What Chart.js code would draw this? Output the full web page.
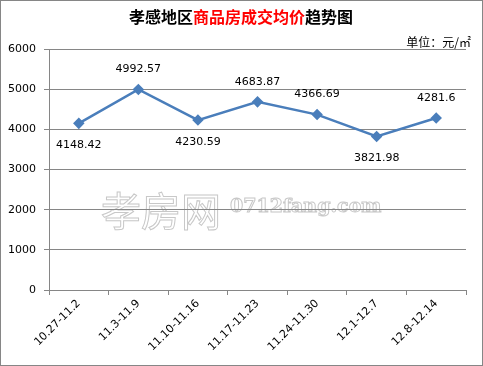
<!DOCTYPE html>
<html>
<head>
<meta charset="utf-8">
<script src="https://cdn.jsdelivr.net/npm/chart.js@4"></script>
<style>
  html, body { margin: 0; padding: 0; background: #fff; }
  .box { width: 483px; height: 366px; position: relative; }
</style>
</head>
<body>
<div class="box"><canvas id="myChart" width="483" height="366"></canvas></div>
<script>
const weeks = ['10.27-11.2', '11.3-11.9', '11.10-11.16', '11.17-11.23', '11.24-11.30', '12.1-12.7', '12.8-12.14'];
const avgPrice = [4148.42, 4992.57, 4230.59, 4683.87, 4366.69, 3821.98, 4281.6];
const labelAbove = [false, true, false, true, true, false, true];
const yTicks = [0, 1000, 2000, 3000, 4000, 5000, 6000];

const gray = '#868686';

// title with red middle part, unit, watermark, frame
const decor = {
  id: 'decor',
  beforeDraw(chart) {
    const ctx = chart.ctx;
    ctx.save();
    ctx.fillStyle = '#fff';
    ctx.fillRect(0, 0, chart.width, chart.height);
    // watermark
    ctx.font = '40px "Noto Sans CJK SC"';
    ctx.strokeStyle = '#c8c8c8';
    ctx.lineWidth = 1;
    ctx.textBaseline = 'middle';
    ctx.strokeText('孝房网', 101, 211);
    ctx.font = 'bold 19px "DejaVu Serif"';
    ctx.strokeText('0712fang.com', 230, 207);
    ctx.restore();
  },
  afterDraw(chart) {
    const ctx = chart.ctx;
    ctx.save();
    ctx.strokeStyle = gray;
    ctx.lineWidth = 1;
    ctx.strokeRect(0.5, 0.5, chart.width - 1, chart.height - 1);
    const parts = [['孝感地区', '#000'], ['商品房成交均价', '#f00'], ['趋势图', '#000']];
    ctx.font = 'bold 16px "Noto Sans CJK SC"';
    ctx.textBaseline = 'middle';
    let total = 0;
    parts.forEach(p => total += ctx.measureText(p[0]).width);
    let x = 241 - total / 2;
    parts.forEach(p => {
      ctx.fillStyle = p[1];
      ctx.textAlign = 'left';
      ctx.fillText(p[0], x, 17);
      x += ctx.measureText(p[0]).width;
    });
    ctx.font = '12px "Noto Sans CJK SC"';
    ctx.fillStyle = '#000';
    ctx.textAlign = 'right';
    ctx.fillText('单位：元/㎡', 471, 42);

    // value labels
    const meta = chart.getDatasetMeta(0);
    ctx.font = '11px "DejaVu Sans"';
    ctx.textAlign = 'center';
    meta.data.forEach((pt, i) => {
      const dy = labelAbove[i] ? -20 : 22;
      ctx.fillText(String(avgPrice[i]), pt.x, pt.y + dy);
    });
    ctx.restore();
  }
};

new Chart(document.getElementById('myChart'), {
  type: 'line',
  data: {
    labels: weeks,
    datasets: [{
      label: '均价',
      data: avgPrice,
      borderColor: '#4a7ebb',
      backgroundColor: '#4a7ebb',
      borderWidth: 2.5,
      pointStyle: 'rectRot',
      pointRadius: 4,
      pointHoverRadius: 4,
      tension: 0,
    }],
  },
  options: {
    responsive: false,
    animation: false,
    layout: { padding: { top: 49, right: 17, left: 0, bottom: 0 } },
    plugins: { legend: { display: false }, tooltip: { enabled: false } },
    scales: {
      x: {
        offset: true,
        afterFit(s) { s.height = 76; },
        grid: { offset: true, drawOnChartArea: false, color: gray, tickLength: 5 },
        border: { color: gray },
        ticks: {
          minRotation: 45, maxRotation: 45, color: '#000', padding: 2,
          font: { family: 'DejaVu Sans', size: 11 },
        },
      },
      y: {
        min: 0,
        max: 6000,
        afterFit(s) { s.width = 49; },
        afterBuildTicks(s) { s.ticks = yTicks.map(v => ({ value: v })); },
        grid: { color: gray, tickLength: 5 },
        border: { color: gray },
        ticks: {
          color: '#000', padding: 8,
          font: { family: 'DejaVu Sans', size: 11 },
          callback: v => String(v),
        },
      },
    },
  },
  plugins: [decor],
});
</script>
</body>
</html>
